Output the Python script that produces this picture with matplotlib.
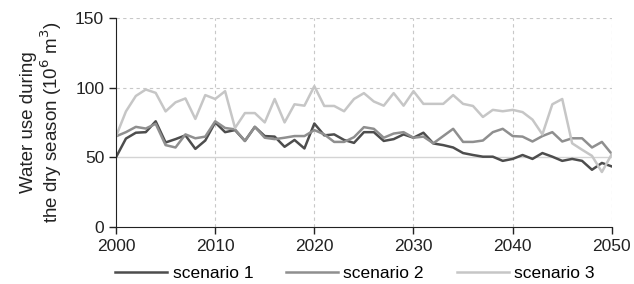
import numpy as np
import matplotlib
matplotlib.use("Agg")
import matplotlib.pyplot as plt

plt.rcParams['font.family'] = ['Liberation Sans', 'DejaVu Sans']

years = np.arange(2000, 2051)

scenario_1 = [50, 63.4, 67.6, 68, 75.8, 60.6, 63, 65.7, 56, 62,
              75, 68, 69.5, 61.7, 71.8, 65.2, 64.8, 57.5, 62.4, 56.3,
              74.2, 65.7, 66.4, 62.4, 60.3, 68, 68, 61.7, 63, 66.4,
              64, 67.6, 59.9, 58.7, 57, 53, 51.6, 50.4, 50.4, 47.4,
              48.8, 51.6, 48.8, 53, 50.4, 47.4, 48.8, 47.4, 41, 45.9, 43.4]

scenario_2 = [65, 68, 71.8, 70.6, 74, 58.7, 57, 66.4, 63.6, 64.8,
              75.8, 71, 70, 61.7, 71.8, 64, 63, 64, 65.2, 65.2,
              69.5, 66.4, 61, 61, 64.4, 71.6, 70.4, 64, 67, 68,
              64, 64.8, 60, 65.2, 70.4, 61, 61, 62, 68, 70.4,
              65.2, 64.8, 61.3, 65.2, 68, 61.3, 63.6, 63.6, 57, 61, 52.3]

scenario_3 = [65, 82.9, 94, 98.6, 96.2, 82.9, 89.4, 92.2, 77.5, 94.6,
              91.8, 97.4, 71, 81.7, 81.7, 75, 91.8, 75, 88, 87,
              101, 86.8, 86.8, 83, 91.8, 96, 90, 87, 96, 87,
              97.4, 88.3, 88.3, 88.3, 94.6, 88.3, 86.8, 78.9, 84, 83,
              84, 82.4, 77, 66.4, 88, 91.8, 60, 55.4, 51, 39.4, 52.3]

series = [("scenario 1", scenario_1, "#4d4d4d"),
          ("scenario 2", scenario_2, "#8f8f8f"),
          ("scenario 3", scenario_3, "#c6c6c6")]

fig = plt.figure(figsize=(6.34, 2.84), dpi=100)
ax = fig.add_axes([0.183, 0.201, 0.782, 0.736])

## grid ##
for x in [2010, 2020, 2030, 2040, 2050]:
    ax.axvline(x, color="#c8c8c8", lw=0.8, ls=(0, (3, 3)), zorder=0)
for y in [100, 150]:
    ax.axhline(y, color="#c8c8c8", lw=0.8, ls=(0, (3, 3)), zorder=0)
ax.axhline(50, color="#d4d4d4", lw=1.0, zorder=0)

for name, vals, col in series:
    ax.plot(years, vals, color=col, lw=1.8, label=name)

ax.set_xlim(2000, 2050)
ax.set_ylim(0, 150)
ax.set_xticks([2000, 2010, 2020, 2030, 2040, 2050])
ax.set_yticks([0, 50, 100, 150])
ax.tick_params(labelsize=12.5, colors="#222222", length=5, width=1)
for s in ["top", "right"]:
    ax.spines[s].set_visible(False)
for s in ["left", "bottom"]:
    ax.spines[s].set_color("#222222")

ax.set_ylabel("Water use during\nthe dry season (10$^6$ m$^3$)",
              fontsize=13.5, color="#222222", linespacing=1.1)
ax.yaxis.set_label_coords(-0.105, 0.5)

fig.legend(loc="lower center", bbox_to_anchor=(0.56, -0.045), ncol=3,
           frameon=False, fontsize=12.5, handlelength=3.0, columnspacing=1.9,
           handletextpad=0.3)

fig.savefig("out.png", dpi=100)
